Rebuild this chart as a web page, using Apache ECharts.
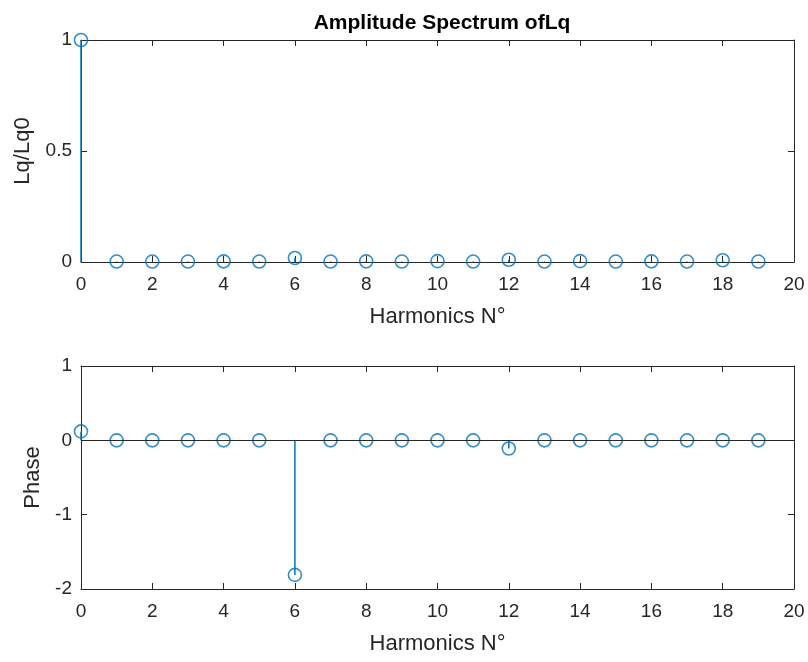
<!DOCTYPE html>
<html>
<head>
<meta charset="utf-8">
<script src="https://cdn.jsdelivr.net/npm/echarts@6/dist/echarts.min.js"></script>
<style>html,body{margin:0;padding:0;background:#fff}#c{width:808px;height:662px}</style>
</head>
<body>
<div id="c"></div>
<script>
const harmonics = [0,1,2,3,4,5,6,7,8,9,10,11,12,13,14,15,16,17,18,19];
const amplitude = [1,0.002,0.002,0.002,0.003,0.002,0.018,0.002,0.003,0.002,0.004,0.002,0.010,0.002,0.004,0.002,0.003,0.002,0.008,0.002];
const phase = [0.12,0,0,0,0,0,-1.81,0,0,0,0,0,-0.11,0,0,0,0,0,0,0];
const titleText = 'Amplitude Spectrum ofLq';
const xName = 'Harmonics N°';
const yNames = ['Lq/Lq0','Phase'];

const C = '#0072BD', AX = '#262626', FONT = 'Liberation Sans, Arial, Helvetica, sans-serif';
const pts = v => harmonics.map((h,i)=>[h,v[i]]);

function xAxes(gi){
  return [{
    gridIndex: gi, type:'value', min:0, max:20, interval:2, position:'bottom',
    name: xName, nameLocation:'middle', nameGap:44,
    nameTextStyle:{color:AX,fontSize:22,fontFamily:FONT},
    axisLine:{onZero:false,lineStyle:{color:AX,width:1}},
    axisTick:{inside:true,length:6,lineStyle:{color:AX}},
    axisLabel:{color:AX,fontSize:19,fontFamily:FONT,margin:13},
    splitLine:{show:false}
  },{
    gridIndex: gi, type:'value', min:0, max:20, interval:2, position:'top',
    axisLine:{onZero:false,lineStyle:{color:AX,width:1}},
    axisTick:{inside:true,length:6,lineStyle:{color:AX}},
    axisLabel:{show:false}, splitLine:{show:false}
  }];
}
function yAxes(gi,min,max,interval,name,gap){
  return [{
    gridIndex: gi, type:'value', min, max, interval, position:'left',
    name, nameLocation:'middle', nameGap:gap,
    nameTextStyle:{color:AX,fontSize:22,fontFamily:FONT},
    axisLine:{show:true,onZero:false,lineStyle:{color:AX,width:1}},
    axisTick:{show:true,inside:true,length:6,lineStyle:{color:AX}},
    axisLabel:{color:AX,fontSize:19,fontFamily:FONT,margin:9},
    splitLine:{show:false}
  },{
    gridIndex: gi, type:'value', min, max, interval, position:'right',
    axisLine:{show:true,onZero:false,lineStyle:{color:AX,width:1}},
    axisTick:{show:true,inside:true,length:6,lineStyle:{color:AX}},
    axisLabel:{show:false}, splitLine:{show:false}
  }];
}

const chart = echarts.init(document.getElementById('c'), null, {renderer:'canvas'});
chart.setOption({
  animation:false,
  backgroundColor:'#fff',
  title:{text:titleText,left:437,textAlign:'center',top:8,
    textStyle:{color:'#000',fontSize:21,fontWeight:'bold',fontFamily:FONT}},
  grid:[
    {left:81,right:14,top:40,height:222},
    {left:81,right:14,top:366,height:223}
  ],
  xAxis:[...xAxes(0),...xAxes(1)],
  yAxis:[...yAxes(0,0,1,0.5,yNames[0],47),...yAxes(1,-2,1,1,yNames[1],36)],
  series:[
    {type:'bar',xAxisIndex:0,yAxisIndex:0,data:pts(amplitude),barWidth:1.5,
      itemStyle:{color:C},silent:true,z:2},
    {type:'scatter',xAxisIndex:0,yAxisIndex:0,data:pts(amplitude),symbol:'circle',symbolSize:13,
      itemStyle:{color:'rgba(0,0,0,0)',borderColor:C,borderWidth:1.6},z:3},
    {type:'bar',xAxisIndex:2,yAxisIndex:2,data:pts(phase),barWidth:1.5,
      itemStyle:{color:C},silent:true,z:2,
      markLine:{silent:true,symbol:'none',label:{show:false},
        lineStyle:{color:AX,width:1,type:'solid'},data:[{yAxis:0}],animation:false}},
    {type:'scatter',xAxisIndex:2,yAxisIndex:2,data:pts(phase),symbol:'circle',symbolSize:13,
      itemStyle:{color:'rgba(0,0,0,0)',borderColor:C,borderWidth:1.6},z:3}
  ]
});
</script>
</body>
</html>
